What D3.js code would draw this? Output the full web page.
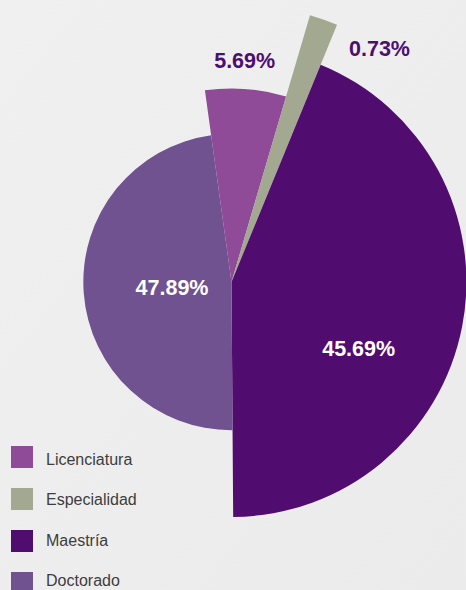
<!DOCTYPE html>
<html>
<head>
<meta charset="utf-8">
<script src="https://cdn.jsdelivr.net/npm/d3@7"></script>
<style>
  html, body { margin: 0; padding: 0; background: #eeeeee; }
  svg { display: block; }
  .legend text { font-family: "Liberation Sans", Arial, sans-serif; font-size: 16px; fill: #3d3d3d; }
  .pct { font-family: "Liberation Sans", Arial, sans-serif; font-weight: bold; font-size: 21.5px; }
</style>
</head>
<body>
<div id="chart"></div>
<script>
// data
const categories = ['Licenciatura', 'Especialidad', 'Maestría', 'Doctorado'];
const pctLabels = ['5.69%', '0.73%', '45.69%', '47.89%'];
// angular share of each slice (as drawn)
const angleShares = [6.75, 1.64, 43.69, 47.92];
// radius value of each slice (variable radius pie)
const radiusValues = [69.6, 100, 84.5, 53.3];
const colors = ['#8f4a98', '#a3a891', '#510c6f', '#6f528f'];

const WIDTH = 466;
const HEIGHT = 590;
const CENTER = { x: 231.5, y: 282 };
const MAX_R = 278;
const START_DEG = -7.9;

// label placement: [radius, angle in degrees clockwise from top], colour
const LABEL_LAYOUT = [
  { r: 222, a: 3.4, fill: '#4e0d70' },
  { r: 277, a: 32.3, fill: '#4e0d70' },
  { r: 143.6, a: 117.7, fill: '#ffffff' },
  { r: 59.7, a: 265.2, fill: '#ffffff' }
];

const data = categories.map((c, i) => ({
  name: c, label: pctLabels[i], share: angleShares[i], z: radiusValues[i], color: colors[i]
}));

const svg = d3.select('#chart')
  .append('svg')
  .attr('width', WIDTH)
  .attr('height', HEIGHT);

// soft background
const grad = svg.append('defs').append('linearGradient')
  .attr('id', 'bg')
  .attr('x1', 0).attr('y1', 0).attr('x2', 1).attr('y2', 1);
grad.append('stop').attr('offset', '0%').attr('stop-color', '#f0f0f0');
grad.append('stop').attr('offset', '100%').attr('stop-color', '#ebebeb');
svg.append('rect')
  .attr('width', WIDTH)
  .attr('height', HEIGHT)
  .attr('fill', 'url(#bg)');

const rScale = d3.scaleLinear()
  .domain([0, d3.max(radiusValues)])
  .range([0, MAX_R]);

const pie = d3.pie()
  .sort(null)
  .value(d => d.share)
  .startAngle(START_DEG * Math.PI / 180)
  .endAngle((START_DEG + 360) * Math.PI / 180);

const arcs = pie(data);

const g = svg.append('g')
  .attr('transform', `translate(${CENTER.x}, ${CENTER.y})`);

g.selectAll('path.slice')
  .data(arcs)
  .enter()
  .append('path')
  .attr('class', 'slice')
  .attr('d', d => d3.arc().innerRadius(0).outerRadius(rScale(d.data.z))(d))
  .attr('fill', d => d.data.color);

// percentage labels
g.selectAll('text.pct')
  .data(arcs)
  .enter()
  .append('text')
  .attr('class', 'pct')
  .attr('text-anchor', 'middle')
  .attr('dy', '0.36em')
  .attr('x', (d, i) => LABEL_LAYOUT[i].r * Math.sin(LABEL_LAYOUT[i].a * Math.PI / 180))
  .attr('y', (d, i) => -LABEL_LAYOUT[i].r * Math.cos(LABEL_LAYOUT[i].a * Math.PI / 180))
  .attr('fill', (d, i) => LABEL_LAYOUT[i].fill)
  .text(d => d.data.label);

// legend: swatches and texts sit on slightly different spacings
const swatchY = d3.scalePoint()
  .domain(categories)
  .range([446, 572]);
const textY = d3.scalePoint()
  .domain(categories)
  .range([465, 586]);

const legend = svg.append('g').attr('class', 'legend');

legend.selectAll('rect')
  .data(data)
  .enter()
  .append('rect')
  .attr('x', 11)
  .attr('y', d => swatchY(d.name))
  .attr('width', 22)
  .attr('height', 22)
  .attr('fill', d => d.color);

legend.selectAll('text')
  .data(data)
  .enter()
  .append('text')
  .attr('x', 46)
  .attr('y', d => textY(d.name))
  .text(d => d.name);
</script>
</body>
</html>
